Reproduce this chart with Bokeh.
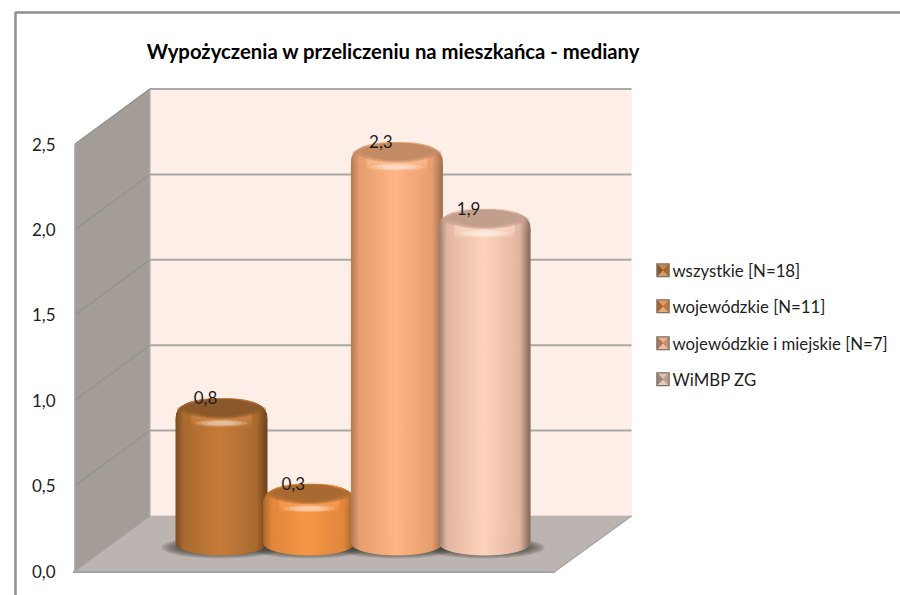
import numpy as np
from bokeh.plotting import figure
from bokeh.models import Range1d, LinearAxis, FixedTicker
from bokeh.core.properties import value
from bokeh.embed import file_html
from bokeh.resources import INLINE

# ---- data
TITLE = "Wypożyczenia w przeliczeniu na mieszkańca - mediany"
SERIES = ["wszystkie [N=18]", "wojewódzkie [N=11]", "wojewódzkie i miejskie [N=7]", "WiMBP ZG"]
VALUES = [0.76, 0.26, 2.26, 1.87]
LABELS = ["0,8", "0,3", "2,3", "1,9"]
TICKS = [0.0, 0.5, 1.0, 1.5, 2.0, 2.5]
TICK_LABELS = ["0,0", "0,5", "1,0", "1,5", "2,0", "2,5"]

# ---- styles
EDGE = ["#74461d", "#a4622a", "#a87650", "#8f7264"]
MID = ["#a96a30", "#e0863c", "#e69e70", "#e2b6a0"]
CENTER = ["#c67c3a", "#f89746", "#ffb584", "#fed3bc"]
INNER = ["#8b5929", "#a96a31", "#c48a64", "#c29e8d"]
RIM = ["#d08a47", "#fb9f55", "#ffbd92", "#ffdcc9"]
MARK = ["#b9702f", "#e2853a", "#e8a079", "#d9b5a3"]

# ---- layout (screen pixels of the page → data units)
PX_UNIT_Y, PX_UNIT_X = 170.8, 87.7
Y0_PX, X0_PX = 570.5, 221
L, R, T, B = 0, 900, 0, 595
W, H = R - L, B - T

def fx(px):
    return (np.asarray(px, dtype=float) - X0_PX) / PX_UNIT_X

def fy(py):
    return (Y0_PX - np.asarray(py, dtype=float)) / PX_UNIT_Y

p = figure(width=W, height=H, output_backend="svg", toolbar_location=None,
           x_range=Range1d(float(fx(L)), float(fx(R))), y_range=Range1d(float(fy(B)), float(fy(T))),
           min_border=0, min_border_left=0, min_border_right=0, min_border_top=0, min_border_bottom=0,
           x_axis_type=None, y_axis_type=None, outline_line_color=None, background_fill_color="white")
p.grid.visible = False


def poly(xs, ys, color, alpha=1.0, line=True):
    p.patch(list(fx(xs)), list(fy(ys)), fill_color=color, fill_alpha=alpha,
            line_color=color if line else None, line_alpha=alpha, line_width=0.6)


def seg(xs, ys, color, w):
    p.line(list(fx(xs)), list(fy(ys)), line_color=color, line_width=w)


def strips(xss, yss, colors, alpha=1.0):
    p.patches([list(fx(a)) for a in xss], [list(fy(b)) for b in yss], fill_color=colors,
              fill_alpha=alpha, line_color=colors, line_alpha=alpha, line_width=1)


def mix(a, b, k):
    ca = [int(a[i:i + 2], 16) for i in (1, 3, 5)]
    cb = [int(b[i:i + 2], 16) for i in (1, 3, 5)]
    return "#%02x%02x%02x" % tuple(int(round(ca[i] + (cb[i] - ca[i]) * k)) for i in range(3))


# chart-area border
seg([15, 15, 900], [595, 12, 12], "#8e8e8e", 2.5)

# 3-D walls and floor
DEPTH_Y = 55
LEFT_F, LEFT_B, RIGHT_B, RIGHT_F = 74.5, 149.5, 631, 555
BACK0 = Y0_PX - DEPTH_Y
TOP_B, TOP_F = 88, 144
poly([LEFT_F, LEFT_B, LEFT_B, LEFT_F], [Y0_PX, BACK0, TOP_B, TOP_F], "#a39c97")
poly([LEFT_B, RIGHT_B, RIGHT_B, LEFT_B], [BACK0, BACK0, TOP_B, TOP_B], "#fdeee7")
poly([LEFT_F, RIGHT_F, RIGHT_B, LEFT_B], [Y0_PX, Y0_PX, BACK0, BACK0], "#bcb4b0")
for t in TICKS[1:]:
    yb = BACK0 - t * PX_UNIT_Y
    yf = Y0_PX - t * PX_UNIT_Y
    seg([LEFT_F, LEFT_B], [yf, yb], "#8e9290", 1.2)
    seg([LEFT_B, RIGHT_B], [yb, yb], "#a9a9a7", 2)
seg([LEFT_F, LEFT_F], [Y0_PX, TOP_F], "#a3a5a5", 1.5)
seg([LEFT_F, LEFT_B], [Y0_PX, BACK0], "#a3a5a5", 1.2)
seg([LEFT_B, LEFT_B], [BACK0, TOP_B], "#a9a9a7", 1.2)
seg([LEFT_F - 2, RIGHT_F], [Y0_PX + 1, Y0_PX + 1], "#a3a5a5", 2)
seg([RIGHT_F, RIGHT_B], [Y0_PX, BACK0], "#a3a5a5", 1.2)


# cylinders
BASE_PX = 542.5
HALF = 45.5
CAP_B = 14.5
BASE_B = 12
N = 91


def ellipse(cx, cy, a, b, color, alpha=1.0):
    th = np.linspace(0, 2 * np.pi, 60)
    poly(cx + a * np.cos(th), cy + b * np.sin(th), color, alpha, line=False)


def shade(t, i):
    a = abs(t + 0.02)
    if a > 0.8:
        return mix(MID[i], EDGE[i], (a - 0.8) / 0.2)
    return mix(CENTER[i], MID[i], a / 0.8)


for i, v in enumerate(VALUES):
    cx = X0_PX + i * PX_UNIT_X
    for k in range(6):
        ellipse(cx, 547, 60 - 3 * k, 11 - k, "#3e3a38", 0.17)

for i, v in enumerate(VALUES):
    cx = X0_PX + i * PX_UNIT_X
    capy = BASE_PX - v * PX_UNIT_Y
    edges = np.linspace(-1, 1, N + 1)

    def upper(t):
        return capy - (-7 + (CAP_B + 7) * (1 - np.abs(t) ** 2.6) ** (1 / 2.6))

    def front(t):
        return capy + 7 + (CAP_B - 7) * (1 - np.abs(t) ** 2.4) ** (1 / 2.4)

    xss, yss, cols = [], [], []
    for a, b in zip(edges[:-1], edges[1:]):
        m = (a + b) / 2
        ts = np.linspace(a, b, 3)
        lower = BASE_PX + BASE_B * np.sqrt(np.clip(1 - ts ** 2, 0, 1))
        xss.append(np.r_[cx + HALF * ts, cx + HALF * ts[::-1]])
        yss.append(np.r_[lower, upper(ts[::-1])])
        cols.append(shade(m, i))
    strips(xss, yss, cols)
    # bevel band, lighter towards the cap
    for k, shift in enumerate([0, 2, 4, 6, 8]):
        ts = np.linspace(-1, 1, 50)
        poly(np.r_[cx + HALF * ts, cx + HALF * ts[::-1]],
             np.r_[front(ts) - shift, upper(ts[::-1])],
             RIM[i], 0.22, line=False)
    # darker side ends of the bevel
    xss, yss, cols = [], [], []
    for a, b in zip(edges[:-1], edges[1:]):
        m = (a + b) / 2
        if abs(m) > 0.66:
            ts = np.linspace(a, b, 3)
            xss.append(np.r_[cx + HALF * ts, cx + HALF * ts[::-1]])
            yss.append(np.r_[front(ts), upper(ts[::-1])])
            cols.append(shade(m, i))
    strips(xss, yss, cols, 0.6)
    # cap top: dark disc that reaches the far edge of the cylinder
    for k in range(4):
        ts = np.linspace(-1, 1, 60)
        a = HALF - 1 - 2.2 * k
        arc = capy + 5.5 - 0.8 * k + (a / HALF) * 0 - 8.5 * (np.abs(ts) ** 2.2)
        top = capy - (CAP_B - 0.3) + 9 * np.abs(ts) ** 2.6
        poly(np.r_[cx + a * ts, cx + a * ts[::-1]], np.r_[arc + 0 * ts, top[::-1]],
             INNER[i], 0.42 if k < 3 else 1.0, line=False)
    # highlight
    for k in range(3):
        ellipse(cx, capy + 10, 26 - 6 * k, 3.4 - 0.7 * k, "#ffffff", 0.2)

# data labels
p.text(x=[float(fx(X0_PX + i * PX_UNIT_X)) for i in range(4)],
       y=[float(v + fy(BASE_PX)) for v in VALUES], text=LABELS,
       x_offset=-16, y_offset=-15.5, text_align="center", text_baseline="middle",
       text_font=value("Lato"), text_font_size="17px", text_color="#1e1e1e")

# title
p.text(x=[float(fx(393))], y=[float(fy(50.5))], text=[TITLE], text_align="center", text_baseline="middle",
       text_font=value("Lato"), text_font_style="bold", text_font_size="20.3px", text_color="#000000")

# legend
LEG_Y = [270, 306, 343, 379]
for i, (name, ly) in enumerate(zip(SERIES, LEG_Y)):
    x0, x1, y0, y1 = 656, 669, ly - 7, ly + 6.5
    xc, yc = (x0 + x1) / 2, (y0 + y1) / 2
    poly([x0, x1, x1, x0], [y0, y0, y1, y1], "#7f7468")
    poly([x0 + 1, x1 - 1, xc], [y0 + 1, y0 + 1, yc], mix(MARK[i], "#ffffff", 0.18), line=False)
    poly([x0 + 1, x1 - 1, xc], [y1 - 1, y1 - 1, yc], mix(MARK[i], "#ffffff", 0.30), line=False)
    poly([x0 + 1, x0 + 1, xc], [y0 + 1, y1 - 1, yc], mix(MARK[i], "#3a2a1a", 0.35), line=False)
    poly([x1 - 1, x1 - 1, xc], [y0 + 1, y1 - 1, yc], mix(MARK[i], "#3a2a1a", 0.15), line=False)
p.text(x=[float(fx(672))] * 4, y=[float(fy(y)) for y in LEG_Y], text=SERIES,
       text_align="left", text_baseline="middle",
       text_font=value("Lato"), text_font_size="16.8px", text_color="#1e1e1e")

# value axis
axis = LinearAxis(ticker=FixedTicker(ticks=TICKS),
                  major_label_overrides=dict(zip(TICKS, TICK_LABELS)),
                  fixed_location=float(fx(57)), axis_line_color=None,
                  major_tick_line_color=None, minor_tick_line_color=None,
                  major_tick_in=0, major_tick_out=0, major_label_standoff=2,
                  major_label_text_font="Lato", major_label_text_font_size="17px",
                  major_label_text_color="#1e1e1e")
p.add_layout(axis, "left")

open("out.html", "w").write(file_html(p, INLINE))
